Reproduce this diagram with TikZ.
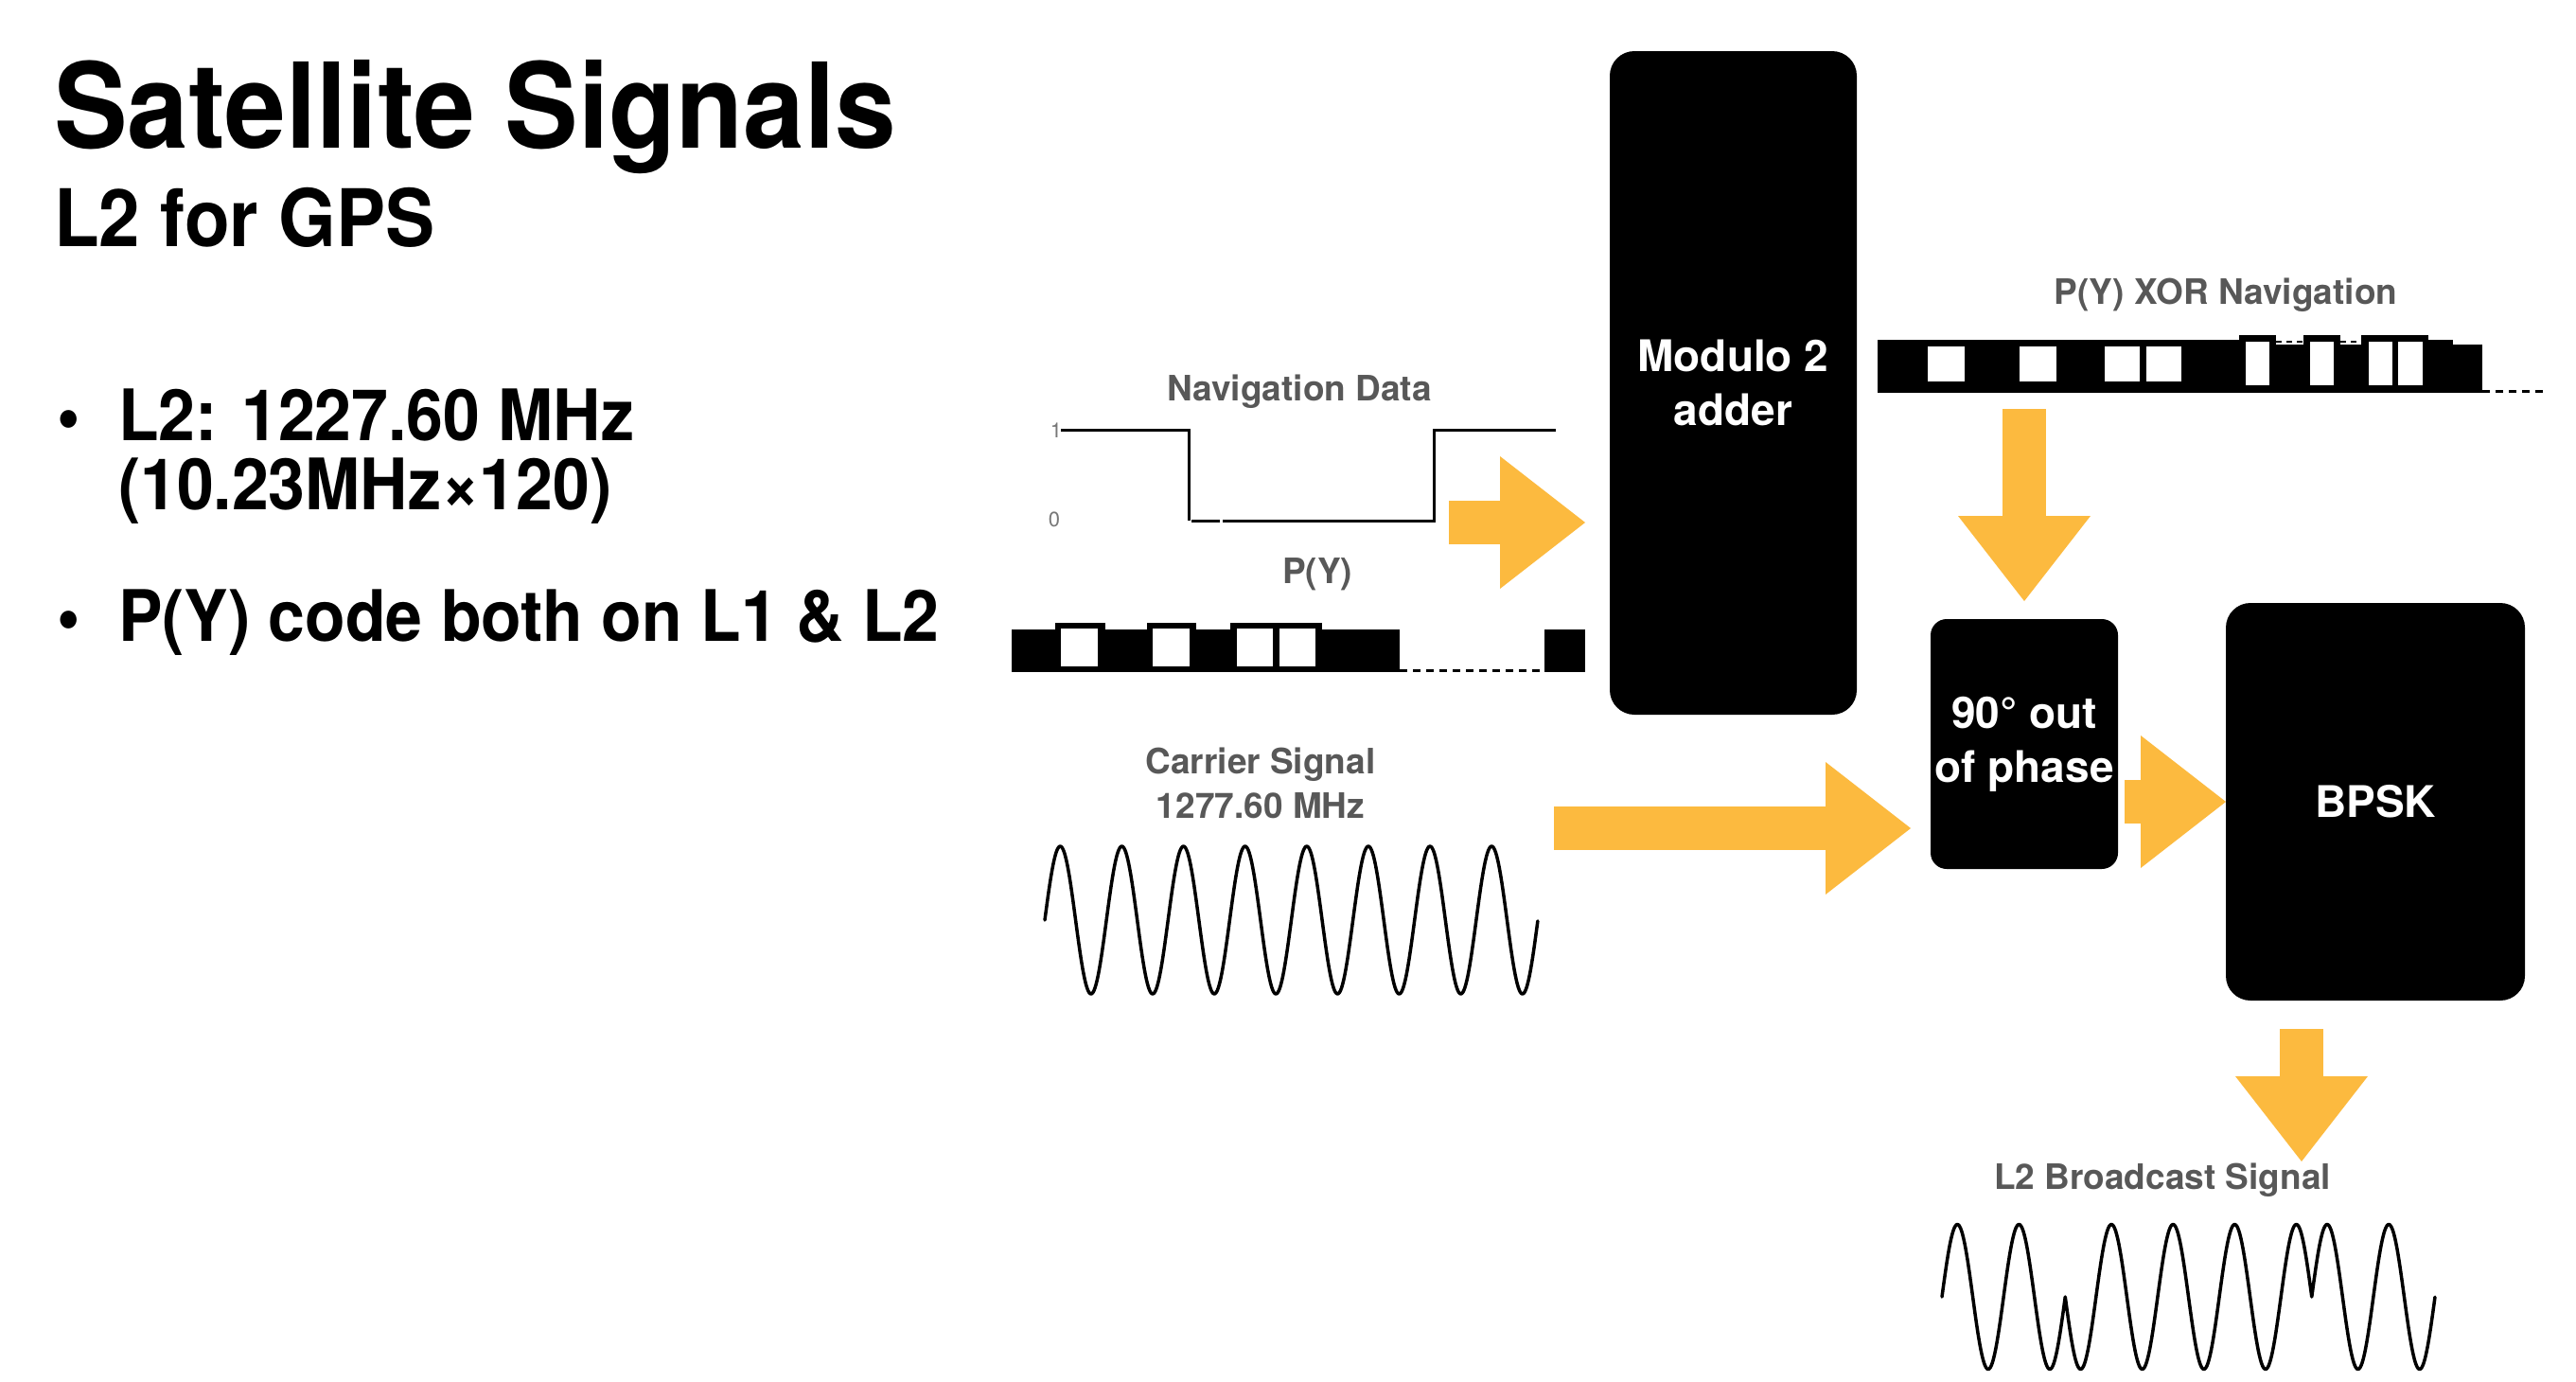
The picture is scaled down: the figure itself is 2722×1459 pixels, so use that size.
\documentclass[tikz,border=0pt]{standalone}
\usepackage{fontspec}
\setmainfont{TeX Gyre Heros}
\newfontfamily\slidefont[FakeStretch=0.93]{TeX Gyre Heros}
\usetikzlibrary{arrows.meta}
\definecolor{flowyellow}{RGB}{252,186,63}
\definecolor{labelgray}{RGB}{88,88,88}
\definecolor{levelgray}{RGB}{120,120,120}

\begin{document}
\begin{tikzpicture}[x=1pt,y=-1pt,
  every node/.style={inner sep=0pt, outer sep=0pt},
  heading/.style={anchor=base west, font=\slidefont\bfseries\fontsize{125}{130}\selectfont},
  subheading/.style={anchor=base west, font=\slidefont\bfseries\fontsize{84}{90}\selectfont},
  bullettext/.style={anchor=base west, font=\slidefont\bfseries\fontsize{75}{73}\selectfont},
  siglabel/.style={anchor=base, text=labelgray, font=\bfseries\fontsize{37}{44}\selectfont},
  levellabel/.style={text=levelgray, font=\fontsize{22}{24}\selectfont},
  blockbox/.style={fill=black, text=white, align=center, font=\bfseries\fontsize{46}{57}\selectfont},
  flow/.style={draw=flowyellow, line width=46pt,
    -{Triangle[width=140pt, length=90pt, line width=0pt 0]}},
  wave/.style={line width=3.5pt, line join=round, line cap=round},
  level/.style={line width=3pt},
  chipgap/.style={dash pattern=on 8pt off 6pt, line width=3pt}
]
\useasboundingbox (0,0) rectangle (2722,1459);
\fill[white] (0,0) rectangle (2722,1459);

% ---- slide text ----
\node[heading] (title) at (57,156) {Satellite Signals};
\node[subheading] (subtitle) at (57,260) {L2 for GPS};
\node[bullettext] (dotA) at (60,465) {\textbullet};
\node[bullettext] (itemA) at (125,465) {L2: 1227.60 MHz};
\node[bullettext] (itemAcont) at (125,538) {(10.23MHz×120)};
\node[bullettext] (dotB) at (60,677) {\textbullet};
\node[bullettext] (itemB) at (125,677) {P(Y) code both on L1 \& L2};

% ---- processing blocks ----
\node[blockbox, rounded corners=26pt, minimum width=261pt, minimum height=701pt]
  (adder) at (1831.5,404.5) {Modulo 2\\adder};
\node[blockbox, rounded corners=17pt, minimum width=198pt, minimum height=264pt]
  (shift) at (2139,786) {90° out\\of phase};
\node[blockbox, rounded corners=26pt, minimum width=316pt, minimum height=420pt]
  (bpsk) at (2510,847) {BPSK};

% ---- signal labels ----
\node[siglabel] (navlabel) at (1373,423) {Navigation Data};
\node[siglabel] (pylabel) at (1392,616) {P(Y)};
\node[siglabel] (xorlabel) at (2352,321) {P(Y) XOR Navigation};
\node[siglabel] (carrierlabel) at (1332,817) {Carrier Signal};
\node[siglabel] (carrierfreq) at (1332,864) {1277.60 MHz};
\node[siglabel] (l2label) at (2285,1256) {L2 Broadcast Signal};
\node[levellabel] (levelone) at (1116,455) {1};
\node[levellabel] (levelzero) at (1114,549) {0};

% ---- navigation data levels ----
\draw[level] (1121,454) -- (1256,454) -- (1256,550);
\draw[level] (1259,550) -- (1289,550);
\draw[level] (1292,550) -- (1515,550) -- (1515,454) -- (1644,454);

% ---- P(Y) chips ----
\fill (1069,665) rectangle (1479,710);
\fill (1115,658) rectangle (1168,710);
\fill (1212,658) rectangle (1264,710);
\fill (1300,658) rectangle (1397,710);
\fill[white] (1121,664) rectangle (1160,704);
\fill[white] (1218,664) rectangle (1257,704);
\fill[white] (1307,664) rectangle (1345,704);
\fill[white] (1352,664) rectangle (1390,704);
\draw[chipgap] (1479,708) -- (1632,708);
\fill (1632,665) rectangle (1675,710);

% ---- P(Y) XOR navigation chips ----
\fill (1984,359) rectangle (2623,415);
\fill[white] (2405,356) rectangle (2495,364);
\fill[white] (2592,356) rectangle (2623,364);
\draw[dash pattern=on 6pt off 5pt, line width=2.5pt] (2405,361) -- (2434,361);
\draw[dash pattern=on 6pt off 5pt, line width=2.5pt] (2473,361) -- (2495,361);
\fill (2366,354) rectangle (2405,415);
\fill (2434,354) rectangle (2473,415);
\fill (2495,354) rectangle (2566,415);
\fill[white] (2037,366) rectangle (2076,403);
\fill[white] (2134,366) rectangle (2173,403);
\fill[white] (2224,366) rectangle (2261,403);
\fill[white] (2268,366) rectangle (2305,403);
\fill[white] (2373,361) rectangle (2398,407);
\fill[white] (2441,361) rectangle (2466,407);
\fill[white] (2503,361) rectangle (2528,407);
\fill[white] (2534,361) rectangle (2560,407);
\draw[chipgap] (2623,413) -- (2687,413);

% ---- carrier wave ----
\draw[wave] plot[domain=0:8, samples=481, variable=\t]
  ({1104+65.125*\t},{972-78*sin(360*\t)});

% ---- L2 broadcast wave (phase flips at the chip edges) ----
\draw[wave] plot[domain=0:2, samples=121, variable=\t]
    ({2052+65.125*\t},{1370-76.5*sin(360*\t)})
  -- plot[domain=2:6, samples=241, variable=\t]
    ({2052+65.125*\t},{1370+76.5*sin(360*\t)})
  -- plot[domain=6:8, samples=121, variable=\t]
    ({2052+65.125*\t},{1370-76.5*sin(360*\t)});

% ---- flow arrows ----
\coordinate (navout) at (1531,552);
\coordinate (xorout) at (2139,432);
\coordinate (carrierout) at (1642,875);
\coordinate (l2in) at (2432,1227);
\draw[flow, shorten >=26pt] (navout) -- (adder.west |- navout);
\draw[flow, shorten >=19pt] (xorout) -- (shift.north);
\draw[flow, shorten >=21pt] (carrierout) -- (shift.west |- carrierout);
\draw[flow, shorten <=7pt] (shift.east |- bpsk.west) -- (bpsk.west);
\draw[flow, shorten <=30pt] (bpsk.south -| l2in) -- (l2in);
\end{tikzpicture}
\end{document}
